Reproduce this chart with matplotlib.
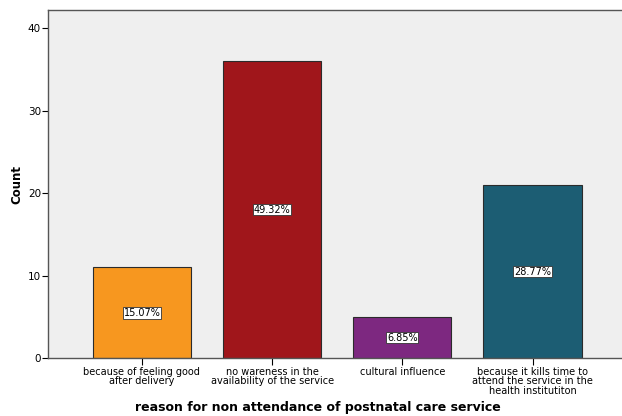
import matplotlib
matplotlib.use("Agg")
import matplotlib.pyplot as plt

# data
categories = ["because of feeling good\nafter delivery",
              "no wareness in the\navailability of the service",
              "cultural influence",
              "because it kills time to\nattend the service in the\nhealth institutiton"]
counts = [11, 36, 5, 21]
pct_labels = ["15.07%", "49.32%", "6.85%", "28.77%"]
colors = ["#F7971F", "#A0161B", "#7D2880", "#1C5D73"]

fig = plt.figure(figsize=(6.22, 4.16), dpi=100)
ax = fig.add_axes([0.077, 0.139, 0.923, 0.837])
ax.set_facecolor("#EFEFEF")

x = list(range(len(counts)))
ax.bar(x, counts, width=0.755, color=colors, edgecolor="#2b2b2b", linewidth=0.8, zorder=2)

for xi, c, lab in zip(x, counts, pct_labels):
    ax.text(xi, c / 2, lab, ha="center", va="center", fontsize=7, color="black", zorder=3,
            bbox=dict(boxstyle="square,pad=0.08", facecolor="white", edgecolor="#333333", linewidth=0.6))

ax.set_xlim(-0.722, 3.687)
ax.set_ylim(0, 42.2)
ax.set_yticks([0, 10, 20, 30, 40])
ax.set_xticks(x)
ax.set_xticklabels(categories, fontsize=7, linespacing=0.95)
ax.tick_params(axis="y", labelsize=7.5, length=4, width=0.8, pad=1)
ax.tick_params(axis="x", length=5, width=0.8, pad=1)

for side in ["left", "bottom", "top"]:
    ax.spines[side].set_color("#555555")
    ax.spines[side].set_linewidth(1.0)
ax.spines["right"].set_visible(False)

ax.set_ylabel("Count", fontsize=8.5, fontweight="bold", labelpad=3)
fig.text(0.511, 0.006, "reason for non attendance of postnatal care service",
         ha="center", va="bottom", fontsize=9, fontweight="bold")

fig.savefig("out.png", dpi=100)
